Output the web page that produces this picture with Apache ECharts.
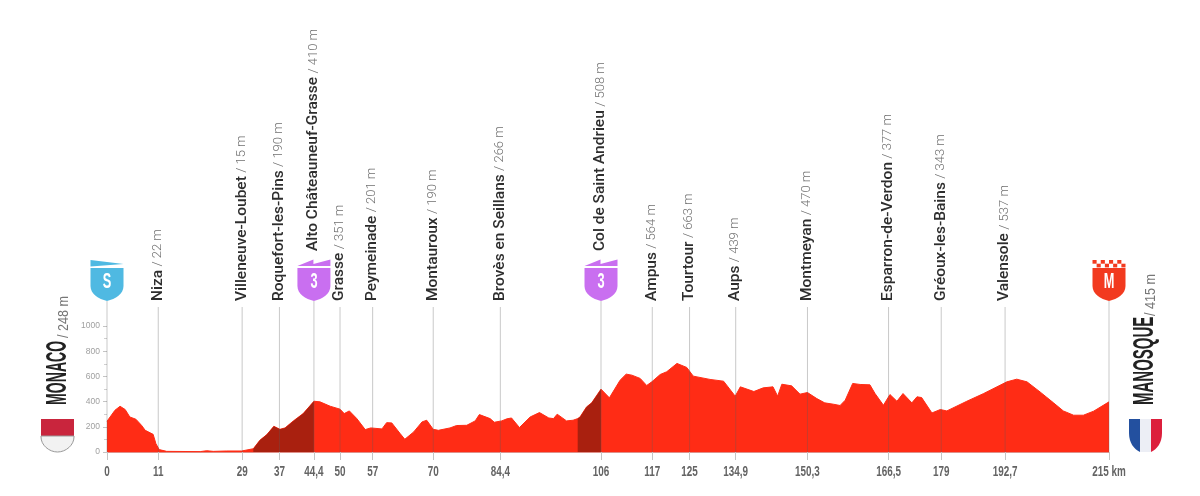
<!DOCTYPE html>
<html>
<head>
    <meta charset="utf-8">
    <title>Perfil</title>
    <script src="https://cdn.jsdelivr.net/npm/echarts@6/dist/echarts.min.js"></script>
    <style>
        html, body { margin: 0; padding: 0; background: #fff; }
    </style>
</head>
<body>
    <div id="main" style="width: 1200px;height:496px;"></div>
    <script type="text/javascript">
        // profile
        var kmPoints = [0, 1.7, 2.8, 3.9, 4.9, 6.2, 7.4, 8.2, 9.9, 10.5, 11.2, 12.8, 20, 21.4, 22.8, 25.7, 28.9, 31.4, 32.8, 34.3, 35.8, 37.1, 38.2, 40, 42.1, 44.4, 45.7, 47.9, 50, 50.9, 52, 53.6, 55.4, 56.6, 59, 60, 61.1, 62.9, 63.9, 65.8, 67.6, 68.6, 70, 71.1, 73.6, 75, 77.2, 79, 79.9, 82.2, 83.1, 84.7, 85.8, 86.8, 88.5, 90.8, 92.8, 94.8, 95.8, 96.6, 98.6, 100, 101, 101.5, 102.9, 104, 106, 107.8, 110.1, 111.4, 112.6, 114.4, 115.8, 116.9, 118.7, 120.1, 122.3, 124.4, 125.8, 129.4, 132.3, 134.8, 135.9, 138.8, 140.8, 142.9, 143.9, 144.8, 146.9, 148.7, 150.3, 152.3, 154, 155.9, 157.3, 158.4, 160, 161.6, 163.7, 164.8, 166.6, 168, 169.5, 170.8, 172.7, 173.8, 174.8, 177, 178.8, 180.2, 184.5, 188.1, 193.1, 195.2, 197.4, 200.2, 203.1, 205.2, 207.4, 209.5, 211.7, 215];
        var elevation = [244, 331, 363, 337, 278, 260, 212, 172, 140, 66, 19, 5, 3, 10, 5, 8, 8, 26, 93, 138, 204, 180, 191, 247, 305, 403, 398, 363, 340, 305, 326, 265, 178, 191, 183, 233, 231, 146, 101, 159, 239, 252, 180, 172, 191, 210, 212, 247, 297, 265, 236, 247, 263, 270, 194, 278, 313, 270, 265, 300, 247, 252, 265, 278, 358, 390, 499, 430, 570, 618, 610, 584, 528, 557, 615, 637, 703, 671, 602, 576, 562, 443, 517, 480, 509, 517, 443, 538, 525, 459, 472, 424, 390, 379, 369, 411, 544, 536, 533, 464, 371, 456, 403, 464, 390, 438, 432, 310, 337, 326, 403, 464, 557, 578, 557, 477, 390, 326, 292, 292, 324, 398];

        // stops along the route
        var stopKm = [0, 11, 29, 37, 44.4, 50, 57, 70, 84.4, 106, 117, 125, 134.9, 150.3, 167.7, 179, 192.7, 215];
        var stopTicks = ['0', '11', '29', '37', '44,4', '50', '57', '70', '84,4', '106', '117', '125', '134,9', '150,3', '166,5', '179', '192,7', '215 km'];
        var stopNames = ['', 'Niza', 'Villeneuve-Loubet', 'Roquefort-les-Pins', 'Alto Châteauneuf-Grasse', 'Grasse', 'Peymeinade', 'Montauroux', 'Brovès en Seillans', 'Col de Saint Andrieu', 'Ampus', 'Tourtour', 'Aups', 'Montmeyan', 'Esparron-de-Verdon', 'Gréoux-les-Bains', 'Valensole', ''];
        var stopAlts = ['', '22 m', '15 m', '190 m', '410 m', '351 m', '201 m', '190 m', '266 m', '508 m', '564 m', '663 m', '439 m', '470 m', '377 m', '343 m', '537 m', ''];

        var shieldKm = [0, 44.4, 106, 215];
        var shieldLetters = ['S', '3', '3', 'M'];
        var climbRanges = [[31.4, 44.4], [101, 106]];

        var RED = '#ff2c15';
        var DARK = '#a9200f';
        var SANS = '"Liberation Sans", sans-serif';

        function pointsBetween(from, to) {
            var res = [];
            for (var i = 0; i < kmPoints.length; i++) {
                if (kmPoints[i] >= from && kmPoints[i] <= to) {
                    res.push([kmPoints[i], elevation[i]]);
                }
            }
            return res;
        }

        function renderStop(params, api) {
            var i = params.dataIndex;
            var base = api.coord([stopKm[i], 0]);
            var hasShield = shieldKm.indexOf(stopKm[i]) >= 0;
            var children = [{
                type: 'line',
                shape: { x1: base[0], y1: base[1], x2: base[0], y2: hasShield ? 301 : 307 },
                style: { stroke: 'rgba(90,90,90,0.33)', lineWidth: 1 }
            }, {
                // no condensed font installed, so squeeze the km label
                type: 'text',
                x: base[0],
                y: base[1] + 20,
                scaleX: 0.66,
                style: {
                    text: stopTicks[i],
                    align: 'center',
                    verticalAlign: 'middle',
                    fontFamily: SANS,
                    fontWeight: 'bold',
                    fontSize: 15,
                    fill: '#646464'
                }
            }];
            if (stopNames[i]) {
                children.push({
                    type: 'text',
                    x: base[0] - 0.5,
                    y: hasShield ? 251 : 301,
                    rotation: Math.PI / 2,
                    style: {
                        text: '{a|' + stopNames[i] + '} {b|/ ' + stopAlts[i] + '}',
                        align: 'left',
                        verticalAlign: 'middle',
                        rich: {
                            a: { fontFamily: 'Roboto', fontWeight: 500, fontSize: 15.5, fill: '#2e2e2e' },
                            b: { fontFamily: 'Roboto', fontWeight: 300, fontSize: 13, fill: '#707070' }
                        }
                    }
                });
            }
            return { type: 'group', children: children };
        }

        function shieldTop(letter, cx) {
            if (letter == 'S') {
                return [{
                    type: 'polygon',
                    shape: { points: [[cx - 16.5, 260], [cx + 16.5, 264], [cx - 16.5, 266.5]] },
                    style: { fill: '#4fb9e2' }
                }];
            }
            if (letter == '3') {
                return [{
                    type: 'polygon',
                    shape: { points: [[cx - 16.5, 266], [cx - 0.5, 259.5], [cx - 0.5, 264], [cx + 16.5, 259.5], [cx + 16.5, 266]] },
                    style: { fill: '#c96ff0' }
                }];
            }
            // checkered finish
            var squares = [];
            for (var r = 0; r < 2; r++) {
                for (var c = 0; c < 8; c++) {
                    if ((r + c) % 2 == 0) {
                        squares.push({
                            type: 'rect',
                            shape: { x: cx - 16.5 + c * 4.125, y: 260 + r * 3.7, width: 4.125, height: 3.7 },
                            style: { fill: '#f23a1f' }
                        });
                    }
                }
            }
            return squares;
        }

        function renderShield(params, api) {
            var i = params.dataIndex;
            var letter = shieldLetters[i];
            var cx = api.coord([shieldKm[i], 0])[0];
            var fill = letter == 'S' ? '#4fb9e2' : (letter == '3' ? '#c96ff0' : '#f23a1f');
            var children = shieldTop(letter, cx);
            children.push({
                type: 'path',
                shape: {
                    pathData: 'M0 0H33V18C33 26 25 31 16.5 33C8 31 0 26 0 18Z',
                    x: cx - 16.5, y: 268, width: 33, height: 33, layout: 'cover'
                },
                style: { fill: fill }
            });
            children.push({
                type: 'text',
                x: cx,
                y: 282,
                scaleX: 0.58,
                style: {
                    text: letter,
                    align: 'center',
                    verticalAlign: 'middle',
                    fontFamily: SANS,
                    fontWeight: 'bold',
                    fontSize: 22,
                    fill: '#fff'
                }
            });
            return { type: 'group', children: children };
        }

        function flagPath(d, x, y, w, h, fill, stroke) {
            return {
                type: 'path',
                shape: { pathData: d, x: x, y: y, width: w, height: h, layout: 'cover' },
                style: { fill: fill, stroke: stroke || null, lineWidth: 1 }
            };
        }

        function renderFlags() {
            return {
                type: 'group',
                children: [
                    // Monaco
                    flagPath('M0 0H33V17H0Z', 41, 419, 33, 17, '#c9253d'),
                    flagPath('M0 0H33V1C33 9 25 16 16.5 16C8 16 0 9 0 1Z', 41, 436, 33, 16, '#f2f2f2', '#999'),
                    // France
                    flagPath('M0 0H11V33C5 30 0 24 0 14Z', 1129, 419, 11, 33, '#23509f'),
                    flagPath('M0 0H11V33H0Z', 1140, 419, 11, 33, '#eceef5'),
                    flagPath('M0 0H11V14C11 24 6 30 0 33Z', 1151, 419, 11, 33, '#dc1f3c')
                ]
            };
        }

        function sideTitle(text, x, y, size, scale, color, weight) {
            return {
                type: 'text',
                x: x,
                y: y,
                rotation: Math.PI / 2,
                scaleX: scale,
                style: {
                    text: text,
                    align: 'left',
                    verticalAlign: 'middle',
                    fontFamily: SANS,
                    fontWeight: weight,
                    fontSize: size,
                    fill: color
                }
            };
        }

        var option = {
            animation: false,
            backgroundColor: '#fff',
            grid: { left: 107, right: 91, top: 326, bottom: 44 },
            xAxis: {
                type: 'value',
                min: 0,
                max: 215,
                splitLine: { show: false },
                axisLine: { show: true, lineStyle: { color: 'rgba(200,70,60,0.6)', width: 1 } },
                axisTick: { show: true, customValues: stopKm, length: 8, lineStyle: { color: '#c4c4c4' } },
                axisLabel: { show: false }
            },
            yAxis: {
                type: 'value',
                min: 0,
                max: 1000,
                interval: 200,
                splitLine: { show: false },
                axisLine: { show: false },
                axisTick: { show: true, length: 4, lineStyle: { color: '#c4c4c4' } },
                minorTick: { show: true, splitNumber: 2, length: 3, lineStyle: { color: '#d0d0d0' } },
                axisLabel: {
                    margin: 7,
                    formatter: function (v) { return String(v); },
                    fontFamily: SANS,
                    fontSize: 8.5,
                    color: '#a0a0a0'
                }
            },
            series: [
                {
                    type: 'line',
                    data: kmPoints.map(function (km, i) { return [km, elevation[i]]; }),
                    symbol: 'none',
                    lineStyle: { color: RED, width: 1 },
                    areaStyle: { color: RED, opacity: 1 },
                    z: 2
                },
                {
                    type: 'line',
                    data: pointsBetween(climbRanges[0][0], climbRanges[0][1]),
                    symbol: 'none',
                    lineStyle: { width: 0 },
                    areaStyle: { color: DARK, opacity: 1 },
                    z: 3
                },
                {
                    type: 'line',
                    data: pointsBetween(climbRanges[1][0], climbRanges[1][1]),
                    symbol: 'none',
                    lineStyle: { width: 0 },
                    areaStyle: { color: DARK, opacity: 1 },
                    z: 3
                },
                {
                    type: 'custom',
                    data: stopKm,
                    renderItem: renderStop,
                    silent: true,
                    z: 4
                },
                {
                    type: 'custom',
                    data: shieldKm,
                    renderItem: renderShield,
                    silent: true,
                    z: 5
                },
                {
                    type: 'custom',
                    data: [0],
                    renderItem: renderFlags,
                    silent: true,
                    z: 5
                }
            ],
            graphic: [
                sideTitle('MONACO', 57.5, 405, 30, 0.47, '#222', 'bold'),
                sideTitle('/ 248 m', 64, 338, 14, 0.9, '#777', 'normal'),
                sideTitle('MANOSQUE', 1145, 405, 30, 0.5, '#222', 'bold'),
                sideTitle('/ 415 m', 1151.5, 316, 14, 0.9, '#777', 'normal')
            ]
        };

        var myChart = echarts.init(document.getElementById('main'));
        myChart.setOption(option);
    </script>
</body>
</html>
